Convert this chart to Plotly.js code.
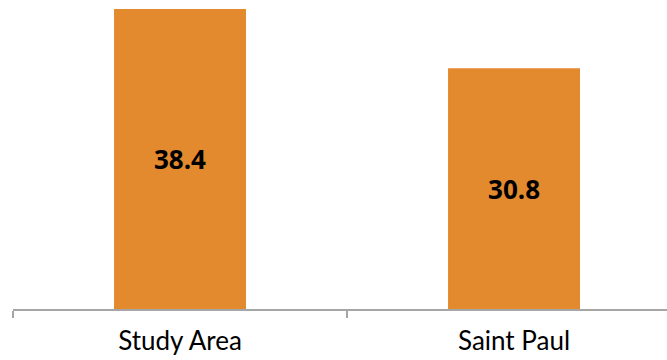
<!DOCTYPE html>
<html>
<head>
<meta charset="utf-8">
<script src="https://cdn.plot.ly/plotly-3.0.1.min.js"></script>
<style>
  html, body { margin: 0; padding: 0; background: #fff; }
  #chart { width: 667px; height: 360px; }
</style>
</head>
<body>
<div id="chart"></div>
<script>
// Area names and their values
const areas = ['Study Area', 'Saint Paul'];
const values = [38.4, 30.8];

const barColor = '#E3892E';
const axisColor = '#A6A6A6';

const trace = {
  type: 'bar',
  x: areas,
  y: values,
  width: 0.395,
  marker: { color: barColor, line: { width: 0 } },
  text: values.map(v => v.toFixed(1)),
  textposition: 'inside',
  insidetextanchor: 'middle',
  textangle: 0,
  textfont: { family: '"Open Sans", "Noto Sans", sans-serif', size: 26, color: '#000', weight: 700 },
  hoverinfo: 'none'
};

const layout = {
  width: 667,
  height: 360,
  margin: { l: 13, r: 0, t: 0, b: 51 },
  paper_bgcolor: '#fff',
  plot_bgcolor: '#fff',
  showlegend: false,
  xaxis: {
    type: 'category',
    range: [-0.5, 1.458],
    showline: true,
    linecolor: axisColor,
    linewidth: 1.5,
    ticks: 'outside',
    tickson: 'boundaries',
    ticklen: 7,
    tickwidth: 1.5,
    tickcolor: axisColor,
    ticklabelstandoff: 8,
    showgrid: false,
    zeroline: false,
    tickfont: { family: 'Lato, "Noto Sans", sans-serif', size: 26, color: '#000' },
    fixedrange: true
  },
  yaxis: {
    range: [0, 39.55],
    visible: false,
    showgrid: false,
    zeroline: false,
    fixedrange: true
  }
};

Plotly.newPlot('chart', [trace], layout, { staticPlot: true, displayModeBar: false });
</script>
</body>
</html>
